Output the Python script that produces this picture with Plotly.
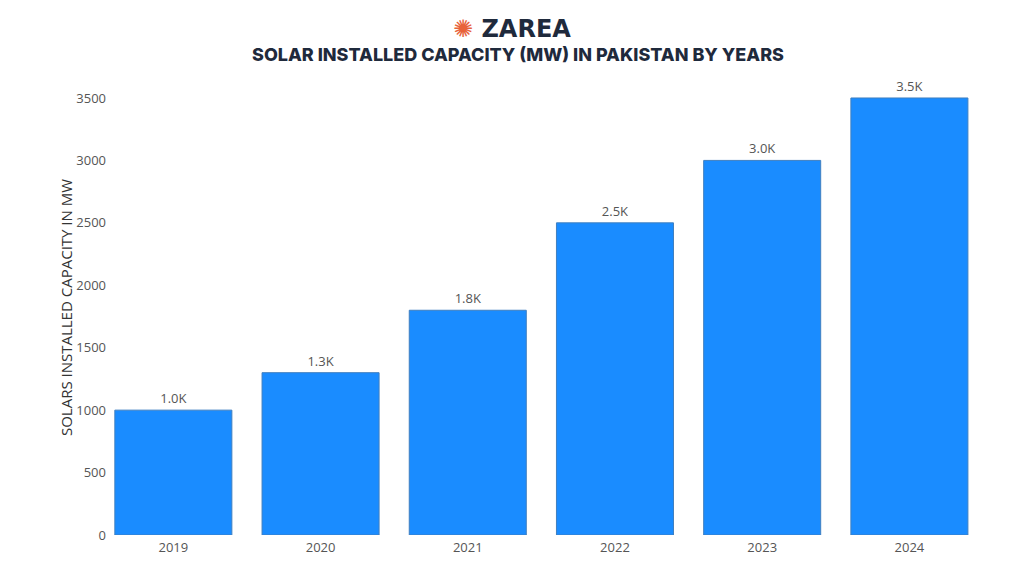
import plotly.graph_objects as go

years = ["2019", "2020", "2021", "2022", "2023", "2024"]
capacity_mw = [1000, 1300, 1800, 2500, 3000, 3500]
value_labels = [f"{v/1000:.1f}K" for v in capacity_mw]
y_ticks = [0, 500, 1000, 1500, 2000, 2500, 3000, 3500]

L, R, T, B = 105, 49, 72, 49
W, H = 1024, 576
PW, PH = W - L - R, H - T - B

fig = go.Figure()
fig.add_trace(go.Bar(
    x=list(range(len(years))),
    y=capacity_mw,
    text=value_labels,
    textposition="outside",
    cliponaxis=False,
    textfont=dict(family="Open Sans, sans-serif", size=13, color="#555555"),
    marker=dict(color="#1a8cff", line=dict(color="#3f7fc0", width=1)),
    width=0.795,
))

fig.update_layout(
    width=W, height=H,
    paper_bgcolor="white", plot_bgcolor="white",
    margin=dict(l=L, r=R, t=T, b=B),
    showlegend=False,
    font=dict(family="Open Sans, sans-serif", color="#555555"),
    xaxis=dict(
        tickmode="array", tickvals=list(range(len(years))), ticktext=years,
        range=[-0.41, 5.5], showgrid=False, zeroline=False, showline=False,
        tickfont=dict(size=13, color="#555555"), ticks="",
        ticklabelstandoff=3,
    ),
    yaxis=dict(
        range=[0, 3644], tickvals=y_ticks, showgrid=False, zeroline=False,
        showline=False, tickfont=dict(size=13, color="#555555"), ticks="",
        ticklabelstandoff=6,
        title=dict(text="SOLARS INSTALLED CAPACITY IN MW", standoff=0,
                   font=dict(size=15, color="#333333")),
    ),
)

def px_x(p):
    return (p - 8 - L) / PW

def px_y(p):
    return 1 + (T - (p - 8)) / PH

fig.add_annotation(
    text="SOLAR INSTALLED CAPACITY (MW) IN PAKISTAN BY YEARS",
    x=px_x(518), y=px_y(55), xref="paper", yref="paper", showarrow=False,
    yanchor="middle",
    font=dict(family="Inter, sans-serif", size=18, color="#1f2a3c", weight=800),
)
fig.add_annotation(
    text="<span style='color:#e8623a'>✺</span> ZAREA",
    x=px_x(512), y=px_y(29), xref="paper", yref="paper", showarrow=False,
    yanchor="middle",
    font=dict(family="DejaVu Sans, sans-serif", size=24, color="#1f2a3c", weight=700),
)

fig.write_html("out.html")
